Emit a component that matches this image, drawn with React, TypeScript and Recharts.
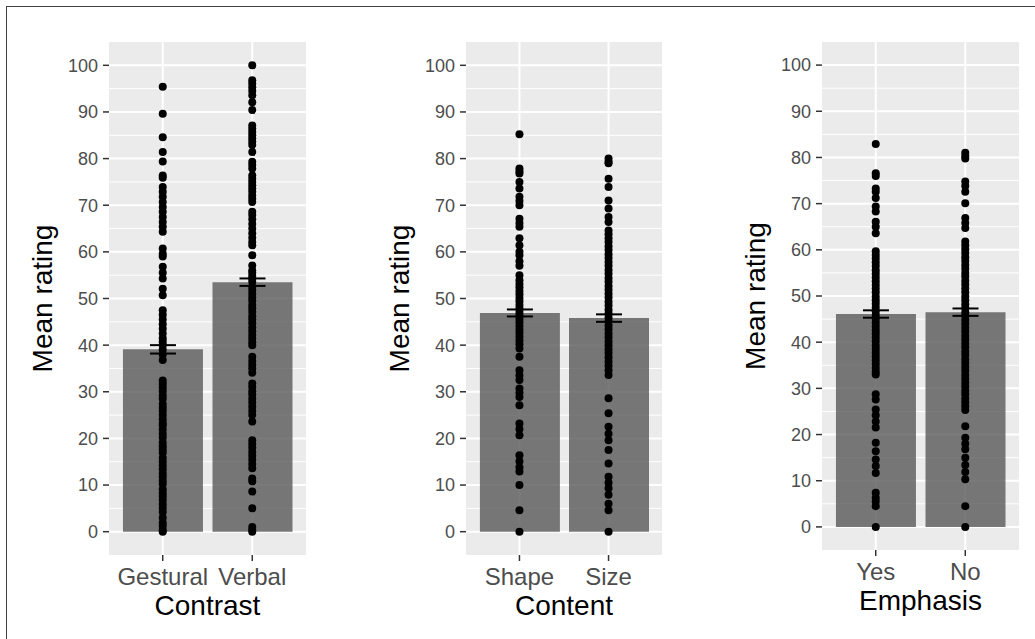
import React from 'react';
import { ComposedChart, Bar, Scatter, XAxis, YAxis, CartesianGrid, ErrorBar, Label } from 'recharts';

const FONT = '"Liberation Sans", Arial, Helvetica, sans-serif';

const yTicks = [0, 10, 20, 30, 40, 50, 60, 70, 80, 90, 100];
const yMinor = [5, 15, 25, 35, 45, 55, 65, 75, 85, 95];

// Panel 1: Contrast
const contrastCategories = ['Gestural', 'Verbal'];
const contrastMeans = [39.1, 53.5];
const contrastErrors = [0.9, 0.8];
const gesturalRatings = [
  95.4, 89.6, 84.6, 81.4, 79.4, 76.4, 75.9,
  73.9, 72.9, 71.8, 70.7, 69.6, 68.6, 67.5, 66.4, 65.4, 64.3,
  60.7, 59.6, 59.0, 56.8, 55.5, 54.3, 52.1, 50.7,
  47.5, 46.5, 45.5, 44.5, 43.5, 42.5, 41.5, 40.7, 40.0, 39.0, 38.0, 36.8,
  32.4, 31.7, 30.9, 30.1, 29.2, 28.5, 27.4, 26.6, 25.9, 25.0, 24.1, 23.3, 22.8,
  21.9, 21.0, 20.2, 19.1, 18.3, 17.6, 16.9, 15.8, 15.0, 14.2, 13.4, 12.5, 11.8,
  10.9, 10.2, 9.1, 8.3, 7.6, 6.8, 5.9, 5.1, 4.2, 3.0, 1.9, 1.2, 0.3, 0,
];
const verbalRatings = [
  100, 96.8, 96.1, 95.3, 94.5, 93.6, 92.1, 90.4,
  87.1, 86.4, 85.7, 85.0, 84.3, 83.6, 82.9, 81.4,
  79.3, 78.6, 77.9, 76.4, 75.7, 75.0, 74.3, 73.6, 72.9, 72.1, 71.4, 70.7,
  68.6, 67.9, 67.0, 66.0, 65.0, 64.0, 63.0, 62.1, 61.4, 59.3,
  57.1, 56.0, 55.5, 54.8, 54.3, 53.6, 52.5,
  51.8, 51.0, 50.2, 49.5, 48.6, 47.9, 47.1, 46.2, 45.5, 44.7, 43.8, 43.0, 42.2, 41.4, 40.6, 40.0,
  37.5, 36.6, 35.8, 35.0, 34.1,
  31.8, 31.0, 30.1, 29.4, 28.5, 27.7, 26.8, 25.9, 25.0, 23.6,
  19.6, 18.8, 18.0, 17.1, 16.3, 15.4, 14.5, 13.6,
  11.4, 10.8, 8.6, 5.0, 1.0, 0.4, 0,
];

// Panel 2: Content
const contentCategories = ['Shape', 'Size'];
const contentMeans = [46.9, 45.8];
const contentErrors = [0.75, 0.8];
const shapeRatings = [
  85.2, 77.9, 77.3, 76.8, 75.0, 73.6, 71.8, 70.9, 70.0, 67.1, 66.2, 65.4,
  62.9, 61.4, 60.0, 59.3, 58.0, 57.0, 55.0,
  53.9, 53.1, 52.4, 51.6, 50.9, 50.1, 49.4, 48.6, 47.9, 47.1, 46.4, 45.6,
  44.9, 44.1, 43.3, 42.6, 41.8, 41.0, 40.2, 39.3,
  37.5, 34.6, 33.5, 32.5, 30.7, 29.8, 28.9, 27.1, 23.2, 22.0, 20.7,
  16.4, 15.1, 13.8, 12.9, 10.0, 4.6, 0,
];
const sizeRatings = [
  80.0, 79.3, 79.0, 75.7, 73.9, 71.0, 69.3, 67.5, 66.4,
  64.6, 63.8, 62.9, 62.1, 61.2, 60.4, 59.5, 58.7, 57.8, 57.0, 56.1, 55.3,
  54.4, 53.6, 52.7, 51.9, 51.0, 50.2, 49.3, 48.5, 47.6, 46.8, 45.9, 45.1,
  44.2, 43.4, 42.5, 41.7, 40.8, 40.0, 39.1, 38.3, 37.4, 36.5, 35.6, 34.6,
  33.6, 28.6, 25.4, 22.5, 21.0, 19.6, 17.5, 14.6, 11.8, 10.5, 9.3, 7.9, 6.0, 4.6, 0,
];

// Panel 3: Emphasis
const emphasisCategories = ['Yes', 'No'];
const emphasisMeans = [46.1, 46.5];
const emphasisErrors = [0.8, 0.8];
const yesRatings = [
  82.9, 76.6, 76.0, 73.3, 72.6, 71.2, 69.4, 68.3, 66.1, 65.0, 63.6,
  59.7, 58.9, 58.1, 57.3, 56.5, 55.6, 54.8, 54.0, 53.2, 52.4, 51.6, 50.8,
  49.9, 49.1, 48.3, 47.5, 46.7, 45.9, 45.1, 44.2, 43.4, 42.6, 41.8, 41.0,
  40.2, 39.3, 38.5, 37.7, 36.9, 36.1, 35.3, 34.4, 33.6, 33.0,
  28.7, 27.6, 25.4, 24.2, 22.8, 21.5, 18.2, 16.4, 14.6, 13.2, 11.7,
  7.4, 6.3, 5.5, 4.5, 0,
];
const noRatings = [
  81.0, 80.3, 79.8, 74.8, 73.8, 72.6, 70.1, 66.9, 65.8, 64.7,
  61.8, 61.0, 60.1, 59.3, 58.4, 57.6, 56.7, 55.9, 55.0, 54.2, 53.3, 52.5,
  51.6, 50.8, 49.9, 49.1, 48.2, 47.4, 46.5, 45.7, 44.8, 44.0, 43.1, 42.3,
  41.4, 40.6, 39.7, 38.9, 38.0, 37.2, 36.3, 35.5, 34.6, 33.8, 32.9, 32.1,
  31.2, 30.4, 29.5, 28.7, 27.8, 27.0, 26.1, 25.3,
  21.8, 19.3, 18.0, 16.8, 15.0, 13.4, 11.9, 10.3, 4.5, 0,
];

const Dot = (props: any) => {
  if (props.cx == null || props.cy == null) return null;
  return <circle cx={props.cx} cy={props.cy} r={4} fill="#000000" />;
};

type PanelProps = {
  left: number;
  width: number;
  xAxisHeight: number;
  titleOffset: number;
  categories: string[];
  means: number[];
  errors: number[];
  ratings: number[][];
  title: string;
};

function Panel({ left, width, xAxisHeight, titleOffset, categories, means, errors, ratings, title }: PanelProps) {
  const barData = categories.map((c, i) => ({ x: i + 1, y: means[i], err: errors[i], name: c }));
  const ptData = ratings.flatMap((arr, i) => arr.map((v) => ({ x: i + 1, y: v })));
  return (
    <div style={{ position: 'absolute', left, top: 0 }}>
      <ComposedChart width={width} height={639} data={barData} margin={{ top: 42, right: 0, bottom: 0, left: 0 }}>
        <CartesianGrid fill="#EBEBEB" stroke="#FFFFFF" strokeWidth={1} vertical={false} horizontalValues={yMinor} />
        <CartesianGrid stroke="#FFFFFF" strokeWidth={2} horizontalValues={yTicks} verticalValues={[1, 2]} />
        <XAxis
          dataKey="x"
          type="number"
          domain={[0.4, 2.6]}
          ticks={[1, 2]}
          allowDataOverflow
          interval={0}
          tickFormatter={(v: number) => categories[v - 1]}
          height={xAxisHeight}
          axisLine={false}
          tickSize={6}
          tickMargin={7}
          tick={{ fontSize: 24, fill: '#4D4D4D', fontFamily: FONT }}
          tickLine={{ stroke: '#333333', strokeWidth: 1.5 }}
        >
          <Label value={title} position="insideBottom" offset={titleOffset} fontSize={28} fill="#000000" fontFamily={FONT} />
        </XAxis>
        <YAxis
          dataKey="y"
          type="number"
          domain={[-5, 105]}
          ticks={yTicks}
          allowDataOverflow
          interval={0}
          width={134}
          axisLine={false}
          tickSize={6}
          tickMargin={5}
          tick={{ fontSize: 18, fill: '#4D4D4D', fontFamily: FONT }}
          tickLine={{ stroke: '#333333', strokeWidth: 1.5 }}
        >
          <Label value="Mean rating" angle={-90} position="center" fontSize={28} fill="#000000" fontFamily={FONT} />
        </YAxis>
        <Bar dataKey="y" barSize={80} fill="#595959" fillOpacity={0.8} isAnimationActive={false}>
          <ErrorBar dataKey="err" width={13} stroke="#000000" strokeWidth={2} />
        </Bar>
        <Scatter data={ptData} dataKey="y" isAnimationActive={false} shape={Dot} />
      </ComposedChart>
    </div>
  );
}

export default function App() {
  return (
    <div style={{ position: 'absolute', left: 0, top: 0, width: 1035, height: 639, background: '#FFFFFF', overflow: 'hidden', fontFamily: FONT }}>
      <div style={{ position: 'absolute', left: 6, top: 6, width: 1029, height: 1, background: '#404040' }} />
      <div style={{ position: 'absolute', left: 6, top: 6, width: 1, height: 633, background: '#404040' }} />
      <Panel left={-25} width={331} xAxisHeight={84} titleOffset={24} categories={contrastCategories} means={contrastMeans} errors={contrastErrors} ratings={[gesturalRatings, verbalRatings]} title="Contrast" />
      <Panel left={332} width={330} xAxisHeight={84} titleOffset={24} categories={contentCategories} means={contentMeans} errors={contentErrors} ratings={[shapeRatings, sizeRatings]} title="Content" />
      <Panel left={688} width={331} xAxisHeight={89} titleOffset={29} categories={emphasisCategories} means={emphasisMeans} errors={emphasisErrors} ratings={[yesRatings, noRatings]} title="Emphasis" />
    </div>
  );
}
